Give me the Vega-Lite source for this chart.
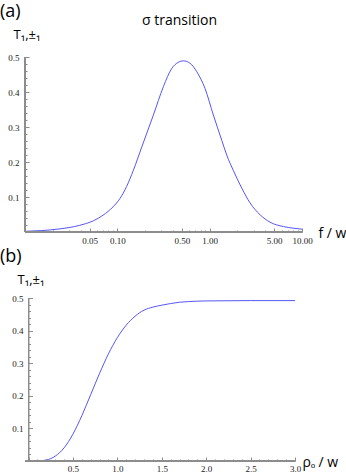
{
  "$schema": "https://vega.github.io/schema/vega-lite/v6.json",
  "padding": {"left": 0, "top": 3, "right": 0, "bottom": 0},
  "background": "white",
  "title": {"text": "σ  transition", "font": "Open Sans", "fontSize": 14, "fontWeight": "normal", "anchor": "start", "frame": "group", "dx": 117, "dy": 25, "offset": 0, "color": "black"},
  "config": {
    "view": {"stroke": null},
    "axis": {"grid": false, "domain": true, "domainWidth": 1, "domainColor": "#8c8c8c", "tickColor": "#8c8c8c", "tickWidth": 1, "labelFont": "Liberation Serif", "labelFontSize": 9, "labelColor": "#222222", "titleFont": "Open Sans", "titleFontWeight": "normal", "titleColor": "black", "labelOverlap": false, "labelBound": false, "labelFlush": false}
  },
  "columns": 1,
  "align": "none",
  "spacing": 0,
  "concat": [
    {
      "width": 277,
      "height": 175,
      "title": {"text": "(a)", "anchor": "start", "frame": "group", "dx": -25, "fontSize": 18, "font": "Open Sans", "fontWeight": "normal", "offset": 7, "color": "black"},
      "data": {"values": [
        {"f": 0.01, "T": 0.002}, {"f": 0.015, "T": 0.004}, {"f": 0.024, "T": 0.009}, {"f": 0.039, "T": 0.019},
        {"f": 0.055, "T": 0.032}, {"f": 0.07, "T": 0.048}, {"f": 0.09, "T": 0.072}, {"f": 0.107, "T": 0.096},
        {"f": 0.126, "T": 0.13}, {"f": 0.149, "T": 0.176}, {"f": 0.184, "T": 0.243}, {"f": 0.2455, "T": 0.334},
        {"f": 0.315, "T": 0.415}, {"f": 0.388, "T": 0.467}, {"f": 0.458, "T": 0.485}, {"f": 0.519, "T": 0.489},
        {"f": 0.614, "T": 0.482}, {"f": 0.725, "T": 0.458}, {"f": 0.891, "T": 0.41}, {"f": 1.097, "T": 0.334},
        {"f": 1.352, "T": 0.262}, {"f": 1.53, "T": 0.22}, {"f": 1.81, "T": 0.175}, {"f": 2.23, "T": 0.125},
        {"f": 2.74, "T": 0.083}, {"f": 3.52, "T": 0.049}, {"f": 4.51, "T": 0.028}, {"f": 6.29, "T": 0.0155},
        {"f": 8, "T": 0.011}, {"f": 10, "T": 0.008}
      ]},
      "layer": [
        {
          "mark": {"type": "line", "color": "#5656f5", "strokeWidth": 1, "interpolate": "monotone"},
          "encoding": {
            "x": {"field": "f", "type": "quantitative",
              "scale": {"type": "log", "domain": [0.01, 10], "nice": false},
              "axis": {
                "values": [0.01,0.02,0.03,0.04,0.05,0.06,0.07,0.08,0.09,0.1,0.2,0.3,0.4,0.5,0.6,0.7,0.8,0.9,1,2,3,4,5,6,7,8,9,10],
                "labelExpr": "indexof([0.05,0.1,0.5,1,5,10], datum.value) >= 0 ? format(datum.value, '.2f') : ''",
                "tickSize": {"condition": {"test": "indexof([0.05,0.1,0.5,1,5,10], datum.value) >= 0", "value": -4}, "value": -2},
                "labelPadding": 8,
                "title": "f / w", "titleX": 293, "titleY": 1, "titleAlign": "left", "titleBaseline": "middle", "titleFontSize": 14
              }
            },
            "y": {"field": "T", "type": "quantitative",
              "scale": {"domain": [0, 0.5], "nice": false},
              "axis": {
                "values": [0,0.02,0.04,0.06,0.08,0.1,0.12,0.14,0.16,0.18,0.2,0.22,0.24,0.26,0.28,0.3,0.32,0.34,0.36,0.38,0.4,0.42,0.44,0.46,0.48,0.5],
                "labelExpr": "(datum.value > 0 && abs(datum.value*10 - round(datum.value*10)) < 1e-6) ? format(datum.value, '.1f') : ''",
                "tickSize": {"condition": {"test": "abs(datum.value*10 - round(datum.value*10)) < 1e-6", "value": -4}, "value": -2},
                "labelPadding": 10,
                "title": "T₁,±₁", "titleAngle": 0, "titleX": -12, "titleY": -19, "titleAlign": "left", "titleBaseline": "alphabetic", "titleFontSize": 13
              }
            }
          }
        },
        {
          "mark": {"type": "rule", "color": "#8c8c8c", "strokeWidth": 1},
          "encoding": {"y": {"datum": 0, "type": "quantitative",
              "axis": {
                "values": [0,0.02,0.04,0.06,0.08,0.1,0.12,0.14,0.16,0.18,0.2,0.22,0.24,0.26,0.28,0.3,0.32,0.34,0.36,0.38,0.4,0.42,0.44,0.46,0.48,0.5],
                "labelExpr": "(datum.value > 0 && abs(datum.value*10 - round(datum.value*10)) < 1e-6) ? format(datum.value, '.1f') : ''",
                "tickSize": {"condition": {"test": "abs(datum.value*10 - round(datum.value*10)) < 1e-6", "value": -4}, "value": -2},
                "labelPadding": 10,
                "title": "T₁,±₁", "titleAngle": 0, "titleX": -12, "titleY": -19, "titleAlign": "left", "titleBaseline": "alphabetic", "titleFontSize": 13
              }}}
        },
        {
          "mark": {"type": "rule", "color": "#8c8c8c", "strokeWidth": 1},
          "encoding": {"x": {"datum": 0.01, "type": "quantitative",
              "axis": {
                "values": [0.01,0.02,0.03,0.04,0.05,0.06,0.07,0.08,0.09,0.1,0.2,0.3,0.4,0.5,0.6,0.7,0.8,0.9,1,2,3,4,5,6,7,8,9,10],
                "labelExpr": "indexof([0.05,0.1,0.5,1,5,10], datum.value) >= 0 ? format(datum.value, '.2f') : ''",
                "tickSize": {"condition": {"test": "indexof([0.05,0.1,0.5,1,5,10], datum.value) >= 0", "value": -4}, "value": -2},
                "labelPadding": 8,
                "title": "f / w", "titleX": 293, "titleY": 1, "titleAlign": "left", "titleBaseline": "middle", "titleFontSize": 14
              }}}
        }
      ]
    },
    {
      "width": 270,
      "height": 163,
      "title": {"text": "(b)", "anchor": "start", "frame": "group", "dx": -25, "fontSize": 18, "font": "Open Sans", "fontWeight": "normal", "offset": 8, "color": "black"},
      "data": {"values": [
        {"rho": 0, "T": 0}, {"rho": 0.1, "T": 0.0002}, {"rho": 0.2, "T": 0.003}, {"rho": 0.3, "T": 0.0147},
        {"rho": 0.4, "T": 0.0402}, {"rho": 0.5, "T": 0.0824}, {"rho": 0.6, "T": 0.1388}, {"rho": 0.7, "T": 0.2035},
        {"rho": 0.8, "T": 0.2689}, {"rho": 0.9, "T": 0.3287}, {"rho": 1.0, "T": 0.3784}, {"rho": 1.1, "T": 0.4167},
        {"rho": 1.2, "T": 0.4442}, {"rho": 1.3, "T": 0.4627}, {"rho": 1.4, "T": 0.472}, {"rho": 1.5, "T": 0.478},
        {"rho": 1.6, "T": 0.483}, {"rho": 1.7, "T": 0.487}, {"rho": 1.8, "T": 0.489}, {"rho": 2.0, "T": 0.491},
        {"rho": 2.5, "T": 0.492}, {"rho": 3.0, "T": 0.492}
      ]},
      "layer": [
        {
          "mark": {"type": "line", "color": "#5656f5", "strokeWidth": 1, "interpolate": "monotone"},
          "encoding": {
            "x": {"field": "rho", "type": "quantitative",
              "scale": {"domain": [0, 3], "range": [3.5, 270], "nice": false},
              "axis": {
                "values": [0,0.1,0.2,0.3,0.4,0.5,0.6,0.7,0.8,0.9,1,1.1,1.2,1.3,1.4,1.5,1.6,1.7,1.8,1.9,2,2.1,2.2,2.3,2.4,2.5,2.6,2.7,2.8,2.9,3],
                "labelExpr": "(datum.value > 0 && abs(datum.value*2 - round(datum.value*2)) < 1e-6) ? format(datum.value, '.1f') : ''",
                "tickSize": {"condition": {"test": "abs(datum.value*2 - round(datum.value*2)) < 1e-6", "value": -4}, "value": -2},
                "labelPadding": 7,
                "title": "ρₒ / w", "titleX": 277, "titleY": 1, "titleAlign": "left", "titleBaseline": "middle", "titleFontSize": 14
              }
            },
            "y": {"field": "T", "type": "quantitative",
              "scale": {"domain": [0, 0.5], "nice": false},
              "axis": {
                "offset": -3.5,
                "values": [0,0.02,0.04,0.06,0.08,0.1,0.12,0.14,0.16,0.18,0.2,0.22,0.24,0.26,0.28,0.3,0.32,0.34,0.36,0.38,0.4,0.42,0.44,0.46,0.48,0.5],
                "labelExpr": "(datum.value > 0 && abs(datum.value*10 - round(datum.value*10)) < 1e-6) ? format(datum.value, '.1f') : ''",
                "tickSize": {"condition": {"test": "abs(datum.value*10 - round(datum.value*10)) < 1e-6", "value": -4}, "value": -2},
                "labelPadding": 9.5,
                "title": "T₁,±₁", "titleAngle": 0, "titleX": -11.5, "titleY": -14.5, "titleAlign": "left", "titleBaseline": "alphabetic", "titleFontSize": 13
              }
            }
          }
        },
        {
          "mark": {"type": "rule", "color": "#8c8c8c", "strokeWidth": 1},
          "encoding": {"y": {"datum": 0, "type": "quantitative",
              "axis": {
                "offset": -3.5,
                "values": [0,0.02,0.04,0.06,0.08,0.1,0.12,0.14,0.16,0.18,0.2,0.22,0.24,0.26,0.28,0.3,0.32,0.34,0.36,0.38,0.4,0.42,0.44,0.46,0.48,0.5],
                "labelExpr": "(datum.value > 0 && abs(datum.value*10 - round(datum.value*10)) < 1e-6) ? format(datum.value, '.1f') : ''",
                "tickSize": {"condition": {"test": "abs(datum.value*10 - round(datum.value*10)) < 1e-6", "value": -4}, "value": -2},
                "labelPadding": 9.5,
                "title": "T₁,±₁", "titleAngle": 0, "titleX": -11.5, "titleY": -14.5, "titleAlign": "left", "titleBaseline": "alphabetic", "titleFontSize": 13
              }}}
        },
        {
          "mark": {"type": "rule", "color": "#8c8c8c", "strokeWidth": 1},
          "encoding": {"x": {"datum": 0, "type": "quantitative",
              "axis": {
                "values": [0,0.1,0.2,0.3,0.4,0.5,0.6,0.7,0.8,0.9,1,1.1,1.2,1.3,1.4,1.5,1.6,1.7,1.8,1.9,2,2.1,2.2,2.3,2.4,2.5,2.6,2.7,2.8,2.9,3],
                "labelExpr": "(datum.value > 0 && abs(datum.value*2 - round(datum.value*2)) < 1e-6) ? format(datum.value, '.1f') : ''",
                "tickSize": {"condition": {"test": "abs(datum.value*2 - round(datum.value*2)) < 1e-6", "value": -4}, "value": -2},
                "labelPadding": 7,
                "title": "ρₒ / w", "titleX": 277, "titleY": 1, "titleAlign": "left", "titleBaseline": "middle", "titleFontSize": 14
              }}}
        }
      ]
    }
  ]
}
